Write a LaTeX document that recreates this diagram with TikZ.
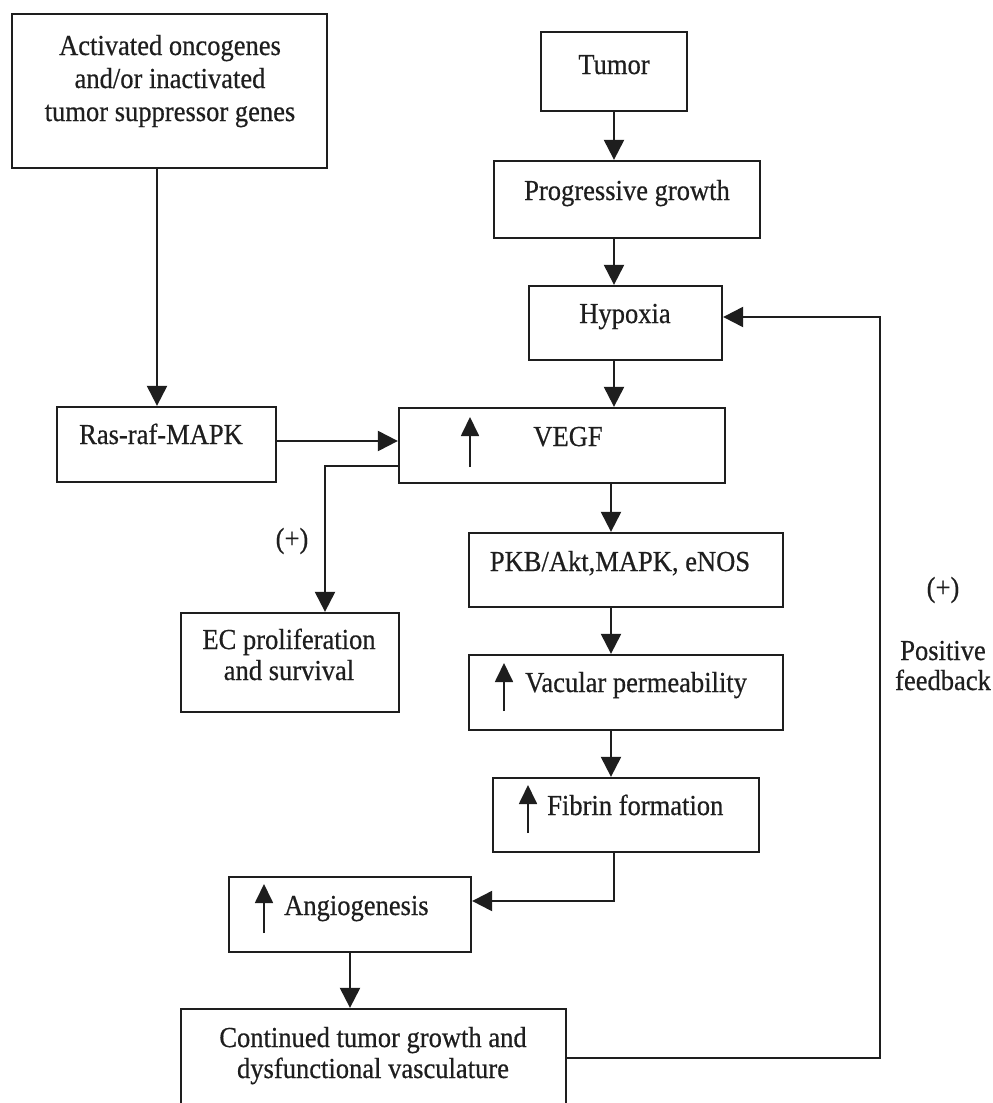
\documentclass[tikz,border=0pt]{standalone}
\usepackage{fontspec}
\setmainfont{Liberation Serif}[FakeStretch=0.915,FakeBold=0.5]
\usetikzlibrary{arrows.meta}
\definecolor{ink}{HTML}{1E1E1E}
\begin{document}
\begin{tikzpicture}[x=1pt,y=-1pt,
  box/.style={draw=ink, line width=2.3pt, inner sep=0pt, rectangle},
  txt/.style={anchor=base, inner sep=0pt, text=ink, font=\fontsize{29}{33}\selectfont},
  txtw/.style={anchor=base west, inner sep=0pt, text=ink, font=\fontsize{29}{33}\selectfont},
  arr/.style={draw=ink, line width=2.2pt, -{Triangle[length=20pt,width=20pt]}},
  uparr/.style={draw=ink, line width=1.8pt, -{Triangle[length=19pt,width=18pt]}}]
\useasboundingbox (0,0) rectangle (993,1103);
\fill[white] (0,0) rectangle (993,1103);

% boxes
\node[box, minimum width=315pt, minimum height=154pt] (act) at (169.5,91) {};
\node[box, minimum width=146pt, minimum height=79pt] (tumor) at (614,71.5) {};
\node[box, minimum width=266pt, minimum height=77pt] (prog) at (627,199.5) {};
\node[box, minimum width=193pt, minimum height=74pt] (hyp) at (625.5,323) {};
\node[box, minimum width=219pt, minimum height=75pt] (ras) at (166.5,444.5) {};
\node[box, minimum width=326pt, minimum height=75pt] (vegf) at (562,445.5) {};
\node[box, minimum width=314pt, minimum height=74pt] (pkb) at (626,570) {};
\node[box, minimum width=314pt, minimum height=75pt] (vac) at (626,692.5) {};
\node[box, minimum width=218pt, minimum height=99pt] (ec) at (290,662.5) {};
\node[box, minimum width=266pt, minimum height=74pt] (fib) at (626,815) {};
\node[box, minimum width=242pt, minimum height=75pt] (ang) at (350,914.5) {};
\node[box, minimum width=385pt, minimum height=110pt] (cont) at (373.5,1064) {};

% texts
\node[txt] (act1) at (170,55) {Activated oncogenes};
\node[txt] (act2) at (170,88) {and/or inactivated};
\node[txt] (act3) at (170,121) {tumor suppressor genes};
\node[txt] (tumort) at (614,74) {Tumor};
\node[txt] (progt) at (627,200) {Progressive growth};
\node[txt] (hypt) at (625,323) {Hypoxia};
\node[txt] (rast) at (161,444) {Ras-raf-MAPK};
\node[txt] (vegft) at (568,446) {VEGF};
\node[txt] (pkbt) at (620,571) {PKB/Akt,MAPK, eNOS};
\node[txtw] (vact) at (525,692) {Vacular permeability};
\node[txt] (ec1) at (289,649) {EC proliferation};
\node[txt] (ec2) at (289,680) {and survival};
\node[txtw] (fibt) at (547,815) {Fibrin formation};
\node[txtw] (angt) at (284,915) {Angiogenesis};
\node[txt] (cont1) at (373,1047) {Continued tumor growth and};
\node[txt] (cont2) at (373,1078) {dysfunctional vasculature};
\node[txt] (plusl) at (292,548) {(+)};
\node[txt] (plusr) at (943,597) {(+)};
\node[txt] (pos1) at (943,660) {Positive};
\node[txt] (pos2) at (943,690) {feedback};

% up arrows inside boxes
\draw[uparr] (470,467) -- (470,417);
\draw[uparr] (504,711) -- (504,663);
\draw[uparr] (528,833) -- (528,785);
\draw[uparr] (264,933) -- (264,884);

% connectors
\coordinate (xa) at (157,0);
\coordinate (xc) at (614,0);
\coordinate (xv) at (611,0);
\coordinate (fb) at (880,317);
\draw[arr] (xa |- act.south) -- (xa |- ras.north);
\draw[arr] (xc |- tumor.south) -- (xc |- prog.north);
\draw[arr] (xc |- prog.south) -- (xc |- hyp.north);
\draw[arr] (xc |- hyp.south) -- (xc |- vegf.north);
\draw[arr] ([yshift=3.5pt]ras.east) -- ([yshift=3.5pt]ras.east -| vegf.west);
\draw[arr] ([yshift=-20.5pt]vegf.west) -| ([xshift=35pt]ec.north);
\draw[arr] (xv |- vegf.south) -- (xv |- pkb.north);
\draw[arr] (xv |- pkb.south) -- (xv |- vac.north);
\draw[arr] (xv |- vac.south) -- (xv |- fib.north);
\draw[arr] (xc |- fib.south) |- ([yshift=13.5pt]ang.east);
\draw[arr] (ang.south) -- (ang.south |- cont.north);
\draw[arr] ([yshift=6pt]cont.east) -| (fb) -- (fb -| hyp.east);
\end{tikzpicture}
\end{document}
